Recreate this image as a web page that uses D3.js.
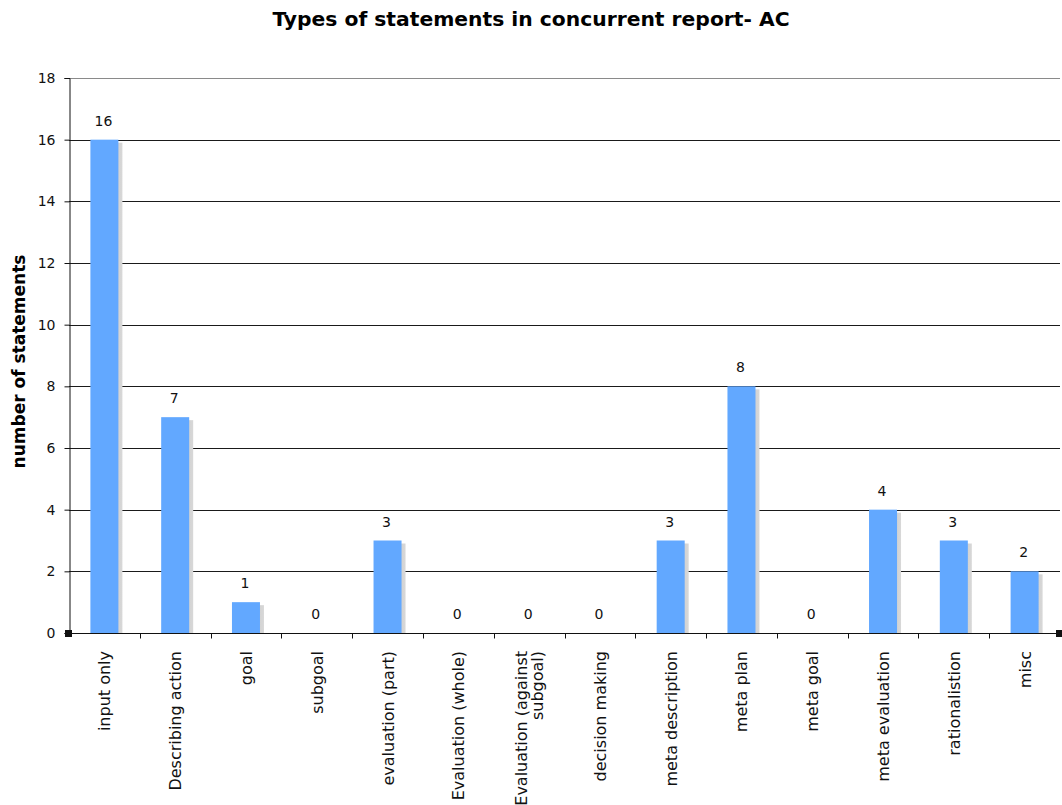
<!DOCTYPE html>
<html>
<head>
<meta charset="utf-8">
<script src="https://cdn.jsdelivr.net/npm/d3@7"></script>
<style>
  html, body { margin: 0; padding: 0; background: #fff; }
  svg { display: block; }
</style>
</head>
<body>
<svg id="chart" width="1062" height="805"></svg>
<script>
// Statement categories (line breaks mark wrapped labels)
const categories = [
  "input only",
  "Describing action",
  "goal",
  "subgoal",
  "evaluation (part)",
  "Evaluation (whole)",
  "Evaluation (against\nsubgoal)",
  "decision making",
  "meta description",
  "meta plan",
  "meta goal",
  "meta evaluation",
  "rationalistion",
  "misc"
];
const counts = [16, 7, 1, 0, 3, 0, 0, 0, 3, 8, 0, 4, 3, 2];
const yTicks = [0, 2, 4, 6, 8, 10, 12, 14, 16, 18];

const svg = d3.select("#chart");
const plot = { left: 69, right: 1060, top: 78, bottom: 633 };
const font = "DejaVu Sans, Verdana, sans-serif";

const x = d3.scaleBand()
  .domain(d3.range(categories.length))
  .range([plot.left, plot.right])
  .paddingInner(0)
  .paddingOuter(0);

const y = d3.scaleLinear()
  .domain([0, 18])
  .range([plot.bottom, plot.top]);

// Title
svg.append("text")
  .attr("x", 531)
  .attr("y", 26)
  .attr("text-anchor", "middle")
  .attr("font-family", font)
  .attr("font-weight", "bold")
  .attr("font-size", 20.3)
  .text("Types of statements in concurrent report- AC");

// Horizontal gridlines
svg.append("g")
  .selectAll("line")
  .data(yTicks.filter(d => d > 0))
  .join("line")
  .attr("x1", plot.left)
  .attr("x2", plot.right)
  .attr("y1", d => Math.round(y(d)) + 0.5)
  .attr("y2", d => Math.round(y(d)) + 0.5)
  .attr("stroke", d => d === 18 ? "#8a8a8a" : "#1a1a1a")
  .attr("stroke-width", 1);

// Y axis
const yAxis = d3.axisLeft(y)
  .tickValues(yTicks)
  .tickSize(5)
  .tickPadding(9)
  .tickFormat(d3.format("d"));
const gy = svg.append("g")
  .attr("transform", `translate(${plot.left + 0.5},0)`)
  .call(yAxis);
gy.select(".domain").attr("stroke", "#111");
gy.selectAll(".tick line").attr("stroke", "#111");
gy.selectAll(".tick text")
  .attr("font-family", font)
  .attr("font-size", 14)
  .attr("fill", "#111");

// Y axis title
svg.append("text")
  .attr("transform", `translate(25,${(plot.top + plot.bottom) / 2 + 6}) rotate(-90)`)
  .attr("text-anchor", "middle")
  .attr("font-family", font)
  .attr("font-weight", "bold")
  .attr("font-size", 17)
  .text("number of statements");

// Bar shadows and bars
const barW = 28;
const bars = svg.append("g");
const shadowGrad = svg.append("defs").append("linearGradient")
  .attr("id", "shade").attr("x1", 0).attr("x2", 1).attr("y1", 0).attr("y2", 0);
shadowGrad.append("stop").attr("offset", "0%").attr("stop-color", "#b4b4b4");
shadowGrad.append("stop").attr("offset", "100%").attr("stop-color", "#d8d8d8");

const data = counts.map((v, i) => ({ i, v }));
const barX = d => x(d.i) + x.bandwidth() / 2 - barW / 2;

bars.selectAll("rect.shadow")
  .data(data.filter(d => d.v > 0))
  .join("rect")
  .attr("class", "shadow")
  .attr("x", d => barX(d) + 4)
  .attr("y", d => y(d.v) + 3)
  .attr("width", barW)
  .attr("height", d => plot.bottom - y(d.v) - 3)
  .attr("fill", "url(#shade)");

bars.selectAll("rect.bar")
  .data(data.filter(d => d.v > 0))
  .join("rect")
  .attr("class", "bar")
  .attr("x", barX)
  .attr("y", d => y(d.v))
  .attr("width", barW)
  .attr("height", d => plot.bottom - y(d.v))
  .attr("fill", "#62a8ff");

// Value labels
svg.append("g")
  .selectAll("text")
  .data(data)
  .join("text")
  .attr("x", d => x(d.i) + x.bandwidth() / 2 - 1)
  .attr("y", d => y(d.v) - 14)
  .attr("text-anchor", "middle")
  .attr("font-family", font)
  .attr("font-size", 14)
  .attr("fill", "#111")
  .text(d => d.v);

// X axis with ticks between categories
const gx = svg.append("g")
  .attr("transform", `translate(0,${plot.bottom + 0.5})`);
gx.append("line")
  .attr("x1", plot.left).attr("x2", plot.right)
  .attr("stroke", "#111");
gx.selectAll("line.tick")
  .data(d3.range(1, categories.length))
  .join("line")
  .attr("class", "tick")
  .attr("x1", i => Math.round(x(i)) + 0.5)
  .attr("x2", i => Math.round(x(i)) + 0.5)
  .attr("y1", 0).attr("y2", 5)
  .attr("stroke", "#111");

// Category labels, rotated
const lineH = 16;
const xl = svg.append("g")
  .selectAll("text")
  .data(categories)
  .join("text")
  .attr("text-anchor", "end")
  .attr("font-family", font)
  .attr("font-size", 16)
  .attr("fill", "#111")
  .attr("transform", (d, i) => {
    const n = d.split("\n").length;
    const cx = x(i) + x.bandwidth() / 2 + 6 - (n - 1) * lineH / 2;
    return `translate(${cx},651) rotate(-90)`;
  });
xl.selectAll("tspan")
  .data(d => d.split("\n"))
  .join("tspan")
  .attr("x", 0)
  .attr("dy", (d, j) => j === 0 ? 0 : lineH)
  .text(d => d);

// Corner handles at the ends of the category axis
svg.append("g")
  .selectAll("rect")
  .data([plot.left, plot.right])
  .join("rect")
  .attr("x", d => d - 4)
  .attr("y", plot.bottom - 3)
  .attr("width", 7)
  .attr("height", 7)
  .attr("fill", "#111");
</script>
</body>
</html>
